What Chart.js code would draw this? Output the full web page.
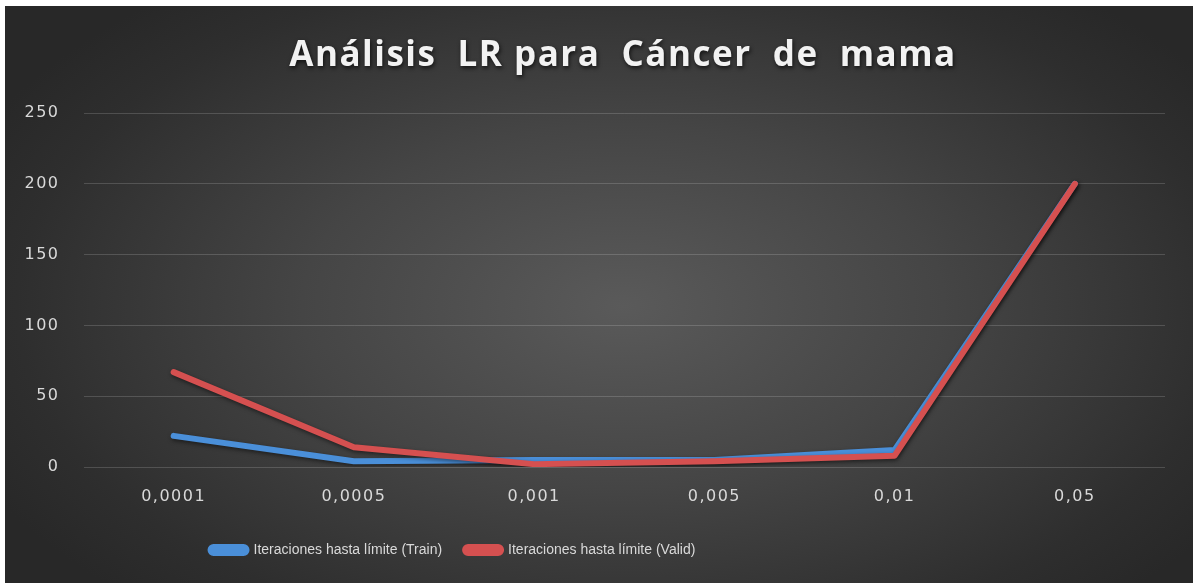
<!DOCTYPE html>
<html>
<head>
<meta charset="utf-8">
<script src="https://cdn.jsdelivr.net/npm/chart.js@4.4.1/dist/chart.umd.min.js"></script>
<style>
  html, body { margin: 0; padding: 0; background: #ffffff; }
  #wrap {
    position: absolute; left: 5px; top: 6px; width: 1188px; height: 577px;
    background: radial-gradient(ellipse 60% 70% at 52% 52%, #5a5a5a 0%, #454545 45%, #2e2e2e 85%, #282828 100%);
  }
</style>
</head>
<body>
<div id="wrap"><canvas id="lrChart"></canvas></div>
<script>
// learning rates on the x axis
const categories = ['0,0001', '0,0005', '0,001', '0,005', '0,01', '0,05'];
// iterations until limit
const trainValues = [22, 4, 5, 5, 12, 200];
const validValues = [67, 14, 2, 4, 8, 200];
const yTicks = [0, 50, 100, 150, 200, 250];

const titleText = 'Análisis  LR para  Cáncer  de  mama';
const trainLabel = 'Iteraciones hasta límite (Train)';
const validLabel = 'Iteraciones hasta límite (Valid)';

const BLUE = '#4a8fd9';
const RED = '#d55050';
const TEXT = '#d9d9d9';

// tweaks: letter spacing on text, soft shadow under lines, title/legend nudged
const lookPlugin = {
  id: 'look',
  beforeDraw(chart) {
    const ctx = chart.ctx;
    ctx.letterSpacing = '1.5px';
    if (chart.titleBlock && !chart.titleBlock._wrapped) {
      const orig = chart.titleBlock.draw;
      chart.titleBlock.draw = function () {
        ctx.save();
        ctx.letterSpacing = '1.5px';
        ctx.shadowColor = 'rgba(0,0,0,0.7)';
        ctx.shadowBlur = 4;
        ctx.shadowOffsetX = 1;
        ctx.shadowOffsetY = 2;
        orig.apply(this, arguments);
        ctx.restore();
      };
      chart.titleBlock._wrapped = true;
    }
    if (chart.legend && !chart.legend._wrapped) {
      const origL = chart.legend.draw;
      chart.legend.draw = function () {
        ctx.save();
        ctx.letterSpacing = '0px';
        origL.apply(this, arguments);
        ctx.restore();
      };
      chart.legend._wrapped = true;
    }
  },
  afterLayout(chart) {
    const lg = chart.legend;
    if (lg) {
      lg.left = chart.chartArea.left + 104;
    }
    const tb = chart.titleBlock;
    if (tb) {
      tb.left += 38;
      tb.right += 38;
    }
  },
  beforeDatasetDraw(chart) {
    const ctx = chart.ctx;
    ctx.save();
    ctx.shadowColor = 'rgba(0,0,0,0.5)';
    ctx.shadowBlur = 4;
    ctx.shadowOffsetX = 1;
    ctx.shadowOffsetY = 2;
  },
  afterDatasetDraw(chart) {
    chart.ctx.restore();
  }
};

new Chart(document.getElementById('lrChart'), {
  type: 'line',
  data: {
    labels: categories,
    datasets: [
      {
        label: trainLabel,
        data: trainValues,
        borderColor: BLUE,
        backgroundColor: BLUE,
        borderWidth: 6,
        borderJoinStyle: 'round',
        borderCapStyle: 'round',
        pointRadius: 0,
        tension: 0,
        order: 2
      },
      {
        label: validLabel,
        data: validValues,
        borderColor: RED,
        backgroundColor: RED,
        borderWidth: 6,
        borderJoinStyle: 'round',
        borderCapStyle: 'round',
        pointRadius: 0,
        tension: 0,
        order: 1
      }
    ]
  },
  options: {
    responsive: true,
    maintainAspectRatio: false,
    animation: false,
    layout: {
      padding: { left: 0, right: 28, top: 0, bottom: 16 }
    },
    scales: {
      x: {
        offset: true,
        grid: { display: false, drawTicks: false },
        border: { display: false },
        ticks: {
          color: TEXT,
          padding: 20,
          font: { family: 'DejaVu Sans', size: 16 }
        },
        afterFit(scale) { scale.height = 53; }
      },
      y: {
        min: 0,
        max: 250,
        afterBuildTicks(scale) {
          scale.ticks = yTicks.map(v => ({ value: v }));
        },
        grid: { color: 'rgba(255,255,255,0.16)', lineWidth: 1, drawTicks: false },
        border: { display: false },
        ticks: {
          color: TEXT,
          padding: 24,
          font: { family: 'DejaVu Sans', size: 16 }
        }
      }
    },
    plugins: {
      title: {
        display: true,
        text: titleText,
        color: '#f2f2f2',
        font: { family: 'Open Sans', size: 35, weight: 'bold' },
        padding: { top: 29, bottom: 36 }
      },
      legend: {
        position: 'bottom',
        align: 'start',
        labels: {
          color: TEXT,
          boxWidth: 36,
          boxHeight: 6,
          padding: 23,
          useBorderRadius: true,
          borderRadius: 3,
          font: { family: 'Liberation Sans', size: 14 },
          sort: (a, b) => a.datasetIndex - b.datasetIndex
        }
      },
      tooltip: { enabled: false }
    }
  },
  plugins: [lookPlugin]
});
</script>
</body>
</html>
